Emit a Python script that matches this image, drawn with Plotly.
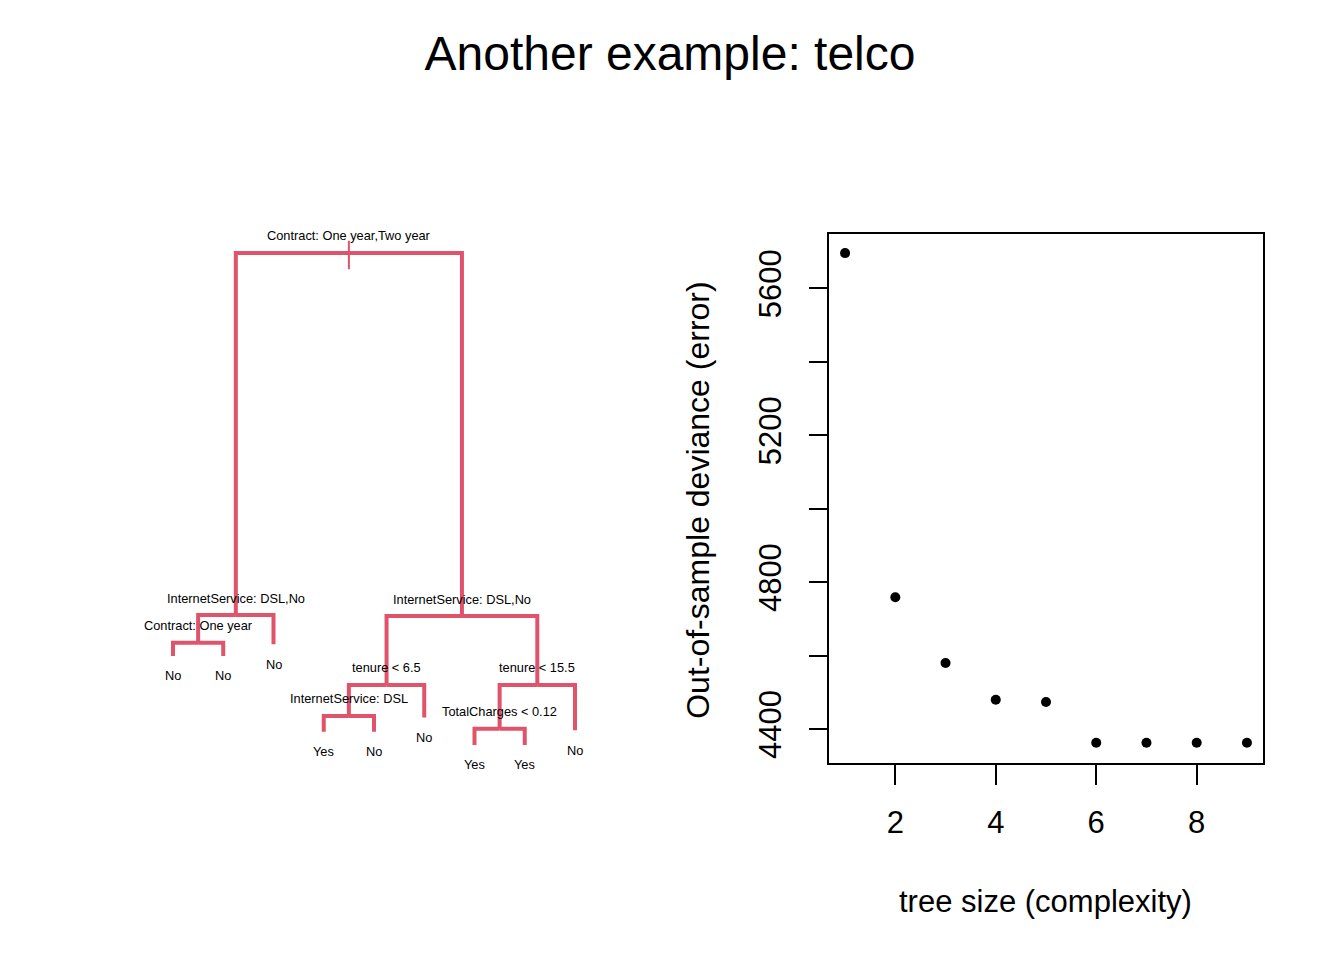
import plotly.graph_objects as go

# cross-validation results: tree size vs out-of-sample deviance
tree_size = [1, 2, 3, 4, 5, 6, 7, 8, 9]
oos_deviance = [5696, 4759, 4580, 4480, 4474, 4363, 4363, 4363, 4363]

y_tickvals = [4400, 4600, 4800, 5000, 5200, 5400, 5600]
y_ticktext = ["4400", "", "4800", "", "5200", "", "5600"]
x_tickvals = [2, 4, 6, 8]

# fitted tree (preorder), heights are node positions
node_parent = [None, 0, 1, 2, 2, 1, 0, 6, 7, 8, 8, 7, 6, 12, 13, 13, 12]
node_label = [
    "Contract: One year,Two year",
    "InternetService: DSL,No",
    "Contract: One year",
    "No", "No",
    "No",
    "InternetService: DSL,No",
    "tenure < 6.5",
    "InternetService: DSL",
    "Yes", "No",
    "No",
    "tenure < 15.5",
    "TotalCharges < 0.12",
    "Yes", "Yes",
    "No",
]
node_height = [100, 26.4, 20.8, 18.1, 18.1, 20.5, 26.2, 12.2, 5.9, 2.7, 2.7,
               5.6, 12.2, 3.3, 0, 0, 3.0]
root_stem = [96.7, 102.5]

TREE_COL = "#DF536B"
FONT = "Liberation Sans, Arial, sans-serif"

# children lists
n = len(node_parent)
children = [[] for _ in range(n)]
for i, p in enumerate(node_parent):
    if p is not None:
        children[p].append(i)

# leaf x positions in order, internal nodes at the midpoint of their children
node_x = [None] * n
k = 1
for i in range(n):
    if not children[i]:
        node_x[i] = k
        k += 1
for i in reversed(range(n)):
    if children[i]:
        node_x[i] = sum(node_x[c] for c in children[i]) / len(children[i])

# branch segments
seg_x, seg_y = [], []
for i, p in enumerate(node_parent):
    if p is None:
        continue
    seg_x += [node_x[p], node_x[i], node_x[i], None]
    seg_y += [node_height[p], node_height[p], node_height[i], None]

fig = go.Figure()

fig.add_trace(go.Scatter(
    x=seg_x, y=seg_y, mode="lines",
    line=dict(color=TREE_COL, width=4),
    xaxis="x2", yaxis="y2", hoverinfo="skip", showlegend=False,
))
fig.add_trace(go.Scatter(
    x=[node_x[0], node_x[0]], y=root_stem, mode="lines",
    line=dict(color=TREE_COL, width=2),
    xaxis="x2", yaxis="y2", hoverinfo="skip", showlegend=False,
))

for i in range(n):
    leaf = not children[i]
    fig.add_annotation(
        x=node_x[i], y=node_height[i], xref="x2", yref="y2",
        text=node_label[i], showarrow=False,
        yshift=-20 if leaf else 17,
        font=dict(family=FONT, size=12.8, color="black"),
    )

fig.add_trace(go.Scatter(
    x=tree_size, y=oos_deviance, mode="markers",
    marker=dict(color="black", size=10),
    showlegend=False,
))

axis_common = dict(
    showgrid=False, zeroline=False, showline=True, mirror=True,
    linecolor="black", linewidth=2, ticks="outside", tickwidth=2,
    tickcolor="black", tickfont=dict(family=FONT, size=31, color="black"),
)

fig.update_layout(
    width=1344, height=960,
    margin=dict(l=0, r=0, t=0, b=0),
    paper_bgcolor="white", plot_bgcolor="white",
    title=dict(
        text="Another example: telco", x=0.4985, xref="paper",
        y=0.9448, yref="paper", yanchor="middle", xanchor="center",
        font=dict(family=FONT, size=48, color="black"),
    ),
    xaxis=dict(
        domain=[829 / 1344, 1263 / 1344], range=[0.68, 9.32],
        tickvals=x_tickvals, ticklen=20, ticklabelstandoff=11,
        **axis_common,
    ),
    yaxis=dict(
        domain=[197 / 960, 726 / 960], range=[4308, 5748],
        tickvals=y_tickvals, ticktext=y_ticktext, ticklen=18,
        tickangle=-90, ticklabelstandoff=16,
        **axis_common,
    ),
    xaxis2=dict(domain=[0.11003, 0.44652], range=[0.5, 9.5], visible=False),
    yaxis2=dict(domain=[0.17271, 0.78771], range=[-10, 110], visible=False),
)

fig.add_annotation(
    text="tree size (complexity)", xref="paper", yref="paper",
    x=1045.5 / 1344, y=59 / 960, xanchor="center", yanchor="middle",
    showarrow=False,
    font=dict(family=FONT, size=31, color="black"),
)
fig.add_annotation(
    text="Out-of-sample deviance (error)", xref="paper", yref="paper",
    x=698 / 1344, y=(960 - 500.8) / 960, xanchor="center", yanchor="middle",
    showarrow=False, textangle=-90,
    font=dict(family=FONT, size=32, color="black"),
)

# drop the default page margin so the figure sits at the window origin
fig.write_html(
    "out.html",
    config={"displayModeBar": False},
    post_script="document.body.style.margin='0';",
)
